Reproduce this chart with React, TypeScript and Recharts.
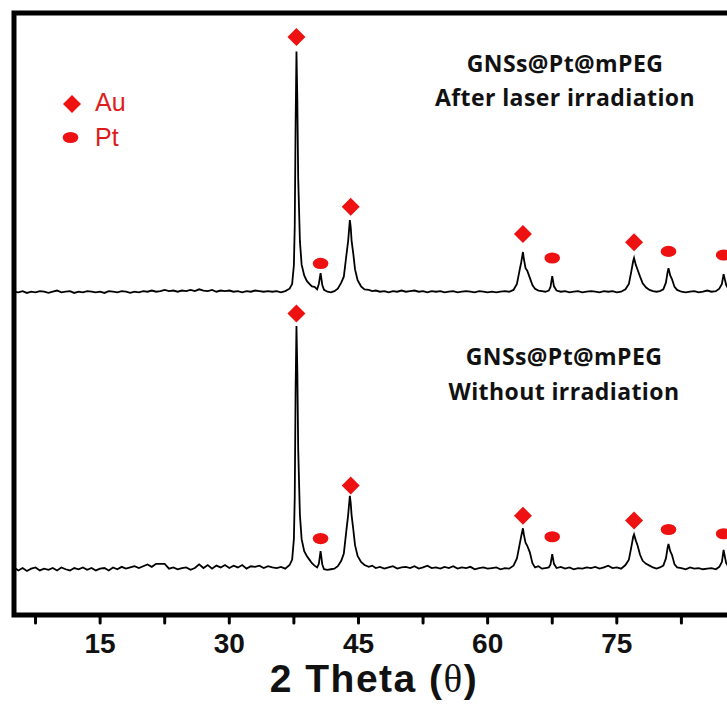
import { ComposedChart, Line, Scatter, XAxis, YAxis, ReferenceArea, Label } from "recharts";

// 2 theta grid (degrees)
const angles = [
  5, 5.5, 6, 6.5, 7, 7.5, 8, 8.5, 9, 9.5,
  10, 10.5, 11, 11.5, 12, 12.5, 13, 13.5, 14, 14.5,
  15, 15.5, 16, 16.5, 17, 17.5, 18, 18.5, 19, 19.5,
  20, 20.5, 21, 21.5, 22, 22.5, 23, 23.5, 24, 24.5,
  25, 25.5, 26, 26.5, 27, 27.5, 28, 28.5, 29, 29.5,
  30, 30.5, 31, 31.5, 32, 32.5, 33, 33.5, 34, 34.5,
  35, 35.5, 36, 36.5, 37, 37.3, 37.5, 37.6, 37.7, 37.8,
  37.9, 38, 38.2, 38.4, 38.7, 39, 39.3, 39.6, 39.9, 40.2,
  40.4, 40.6, 40.8, 41, 41.4, 41.8, 42.2, 42.6, 43, 43.3,
  43.6, 43.8, 44, 44.1, 44.2, 44.4, 44.6, 44.9, 45.3, 45.7,
  46.2, 46.6, 47, 47.5, 48, 48.5, 49, 49.5, 50, 50.5,
  51, 51.5, 52, 52.5, 53, 53.5, 54, 54.5, 55, 55.5,
  56, 56.5, 57, 57.5, 58, 58.5, 59, 59.5, 60, 60.5,
  61, 61.5, 62, 62.5, 63, 63.4, 63.7, 63.9, 64.1, 64.2,
  64.4, 64.6, 64.9, 65.2, 65.5, 65.9, 66.3, 66.7, 67.1, 67.3,
  67.5, 67.7, 68, 68.5, 69, 69.5, 70, 70.5, 71, 71.5,
  72, 72.5, 73, 73.5, 74, 74.5, 75, 75.5, 76, 76.4,
  76.7, 76.9, 77, 77.2, 77.4, 77.7, 78, 78.4, 78.8, 79.2,
  79.6, 80, 80.4, 80.7, 80.9, 81, 81.2, 81.4, 81.7, 82,
  82.5, 83, 83.5, 84, 84.5, 85, 85.5, 86, 86.5, 86.9,
  87.2, 87.4, 87.5, 87.7, 88, 88.5, 89, 89.5, 90,
];

// GNSs@Pt@mPEG after laser irradiation (a.u., above its own baseline)
const afterLaser = [
  0.1, 0.0, 0.2, -0.1, 0.1, 0.0, 0.2, 0.1, -0.1, 0.1,
  0.3, 0.0, 0.1, 0.2, -0.1, 0.1, 0.0, 0.2, 0.1, 0.0,
  0.1, -0.1, 0.2, 0.1, 0.0, 0.2, 0.1, -0.1, 0.1, 0.0,
  0.2, 0.1, 0.3, 0.1, 0.2, 0.4, 0.2, 0.3, 0.1, 0.3,
  0.2, 0.4, 0.2, 0.5, 0.3, 0.2, 0.4, 0.1, 0.3, 0.2,
  0.3, 0.1, 0.2, 0.0, 0.2, 0.1, 0.3, 0.2, 0.1, 0.2,
  0.1, 0.2, 0.0, 0.2, 0.6, 1.4, 4.5, 11, 28, 40,
  32, 19, 8.5, 4.6, 2.8, 1.9, 1.4, 1.0, 0.9, 0.5,
  1.4, 3.2, 1.2, 0.4, 0.1, 0.0, 0.2, 0.6, 1.6, 2.6,
  6.2, 8.5, 12, 10.8, 8.6, 6.4, 3.8, 2.0, 1.0, 0.5,
  0.4, 0.2, 0.3, 0.1, 0.2, 0.0, 0.2, 0.1, 0.3, 0.1,
  0.2, 0.3, 0.1, 0.2, 0.0, 0.2, 0.1, 0.2, 0.0, 0.1,
  0.2, 0.0, 0.1, 0.2, 0.1, 0.0, 0.2, 0.1, 0.0, 0.1,
  0.0, 0.1, 0.2, 0.1, 0.4, 1.4, 3.6, 5.0, 6.7, 5.6,
  4.0, 3.6, 2.4, 1.2, 0.6, 0.3, 0.2, 0.1, 0.3, 0.9,
  2.7, 1.0, 0.3, 0.1, 0.2, 0.0, 0.1, 0.2, 0.0, 0.1,
  0.2, 0.1, 0.0, 0.2, 0.1, 0.2, 0.0, 0.1, 0.5, 1.4,
  3.6, 5.2, 5.7, 4.6, 3.8, 2.6, 1.5, 0.8, 0.4, 0.2,
  0.1, 0.2, 0.5, 1.6, 3.4, 4.0, 2.8, 2.2, 0.9, 0.4,
  0.1, 0.0, 0.1, 0.2, 0.0, 0.1, 0.3, 0.1, 0.2, 0.6,
  1.4, 3.0, 2.4, 1.2, 0.5, 0.2, 0.1, 0.2, 0.1,
];

// GNSs@Pt@mPEG without irradiation
const withoutIrr = [
  0.3, -0.2, 0.2, -0.3, 0.1, 0.3, -0.2, 0.1, -0.1, 0.2,
  -0.2, 0.3, 0.0, -0.2, 0.2, 0.0, 0.3, -0.1, 0.2, -0.2,
  0.1, 0.2, -0.2, 0.3, 0.0, 0.4, 0.1, 0.3, 0.5, 0.2,
  0.5, 0.8, 0.4, 0.9, 0.9, 0.9, 0.1, 0.3, 0.0, 0.2,
  0.3, -0.1, 0.2, 0.8, 0.2, 0.7, 0.1, 0.6, 0.3, 0.7,
  0.2, 0.6, 0.3, 0.7, 0.1, 0.5, 0.4, 0.6, 0.2, 0.5,
  0.3, 0.2, 0.4, 0.1, 0.7, 1.6, 5.0, 12, 30, 40.4,
  33, 20, 9, 5, 3.0, 2.2, 1.6, 1.0, 0.6, 0.3,
  0.9, 3.0, 0.8, 0.0, -0.1, 0.0, 0.1, 0.5, 1.4, 2.6,
  6.5, 9.0, 12.2, 11, 9.0, 6.6, 4.0, 2.2, 1.2, 0.7,
  0.4, 0.6, 0.2, 0.4, 0.1, 0.3, 0.5, 0.1, 0.3, 0.4,
  0.2, 0.5, 0.1, 0.3, 0.6, 0.2, 0.3, 0.1, 0.4, 0.2,
  0.5, 0.1, 0.3, 0.2, 0.4, 0.0, 0.2, 0.3, 0.1, 0.2,
  0.3, 0.0, 0.2, 0.1, 0.6, 1.8, 4.0, 5.5, 6.8, 5.8,
  4.4, 3.9, 2.8, 1.0, 0.3, 0.5, 0.1, 0.2, 0.3, 0.8,
  2.5, 0.9, 0.2, 0.4, 0.1, 0.3, 0.0, 0.2, 0.1, 0.3,
  0.2, 0.4, 0.1, 0.3, 0.6, 0.2, 0.3, 0.1, 0.7, 1.6,
  3.8, 5.4, 5.8, 4.8, 4.0, 2.4, 1.4, 0.9, 0.6, 0.3,
  0.1, 0.3, 0.6, 1.8, 3.6, 4.2, 3.0, 2.4, 0.8, 0.3,
  0.2, 0.0, 0.3, 0.1, 0.2, 0.0, 0.1, 0.2, 0.0, 0.4,
  1.2, 3.2, 2.4, 1.0, 0.4, 0.2, 0.1, 0.3, 0.1,
];

// vertical stacking of the two patterns
const topOffset = 53.6;
const bottomOffset = 7.6;

// peak markers: angle and height above the trace baseline
const auAngles = [37.8, 44.1, 64.1, 77.0];
const auTopHeights = [42.4, 14.2, 9.7, 8.3];
const auBottomHeights = [42.5, 13.9, 8.9, 8.1];
const ptAngles = [40.6, 67.5, 81.0, 87.4];
const ptTopHeights = [4.8, 5.7, 6.8, 6.2];
const ptBottomHeights = [5.1, 5.4, 6.6, 5.9];

const xTicks = [7.5, 15, 22.5, 30, 37.5, 45, 52.5, 60, 67.5, 75, 82.5];
const labelledTicks = [15, 30, 45, 60, 75];

const RED = "#ee1111";

const table = angles.map((a, i) => ({
  angle: a,
  top: afterLaser[i] + topOffset,
  bottom: withoutIrr[i] + bottomOffset,
}));

const auPoints = [
  ...auAngles.map((a, i) => ({ angle: a, v: auTopHeights[i] + topOffset })),
  ...auAngles.map((a, i) => ({ angle: a, v: auBottomHeights[i] + bottomOffset })),
];
const ptPoints = [
  ...ptAngles.map((a, i) => ({ angle: a, v: ptTopHeights[i] + topOffset })),
  ...ptAngles.map((a, i) => ({ angle: a, v: ptBottomHeights[i] + bottomOffset })),
];

const Diamond = (props: any) => {
  const { cx, cy } = props;
  return <polygon points={`${cx},${cy - 9} ${cx + 9},${cy} ${cx},${cy + 9} ${cx - 9},${cy}`} fill={RED} />;
};

const Dot = (props: any) => {
  const { cx, cy } = props;
  return <ellipse cx={cx} cy={cy} rx={7.8} ry={5.6} fill={RED} />;
};

const AxisTick = (props: any) => {
  const { x, y, payload } = props;
  if (!labelledTicks.includes(payload.value)) return <g />;
  return (
    <text x={x} y={y + 28} textAnchor="middle" fontFamily="Liberation Sans, Arial" fontWeight="bold" fontSize={28} fill="#111">
      {payload.value}
    </text>
  );
};

const noteStyle = {
  fontFamily: "'Open Sans', Lato, sans-serif",
  fontWeight: 700,
  fontSize: 23,
  letterSpacing: 0.4,
  fill: "#111",
};

export default function App() {
  return (
    <div style={{ position: "absolute", left: 0, top: 0, width: 727, height: 704, overflow: "hidden", background: "#fff" }}>
      <ComposedChart width={756} height={704} data={table} margin={{ top: 13, left: 14, right: 10, bottom: 0 }}>
        <XAxis
          dataKey="angle"
          type="number"
          domain={[5, 90]}
          ticks={xTicks}
          allowDataOverflow
          height={89}
          axisLine={false}
          tickSize={8}
          tickLine={{ stroke: "#000", strokeWidth: 3, strokeLinecap: "round" }}
          tick={<AxisTick />}
          interval={0}
        >
          <Label
            content={(p: any) => {
              const vb = p.viewBox;
              return (
                <text x={374} y={vb.y + 77} textAnchor="middle" fontFamily="Liberation Sans, Arial" fontWeight="bold" fontSize={39} letterSpacing={1.5} fill="#111">
                  2 Theta (<tspan fontFamily="Liberation Serif, Times New Roman" fontWeight="normal">θ</tspan>)
                </text>
              );
            }}
          />
        </XAxis>
        <YAxis type="number" domain={[0, 100]} hide />
        <ReferenceArea x1={5} x2={90} y1={0} y2={100} fill="none" stroke="#000" strokeWidth={5} ifOverflow="visible" />
        <Line dataKey="top" type="linear" stroke="#000" strokeWidth={1.8} dot={false} isAnimationActive={false} />
        <Line dataKey="bottom" type="linear" stroke="#000" strokeWidth={1.8} dot={false} isAnimationActive={false} />
        <Scatter data={auPoints} dataKey="v" shape={<Diamond />} isAnimationActive={false} />
        <Scatter data={ptPoints} dataKey="v" shape={<Dot />} isAnimationActive={false} />
      </ComposedChart>
      <svg width={727} height={704} style={{ position: "absolute", left: 0, top: 0, pointerEvents: "none" }}>
        <polygon points="72,95 81,104 72,113 63,104" fill={RED} />
        <ellipse cx={70.5} cy={137.5} rx={7.8} ry={5.6} fill={RED} />
        <text x={95} y={111} fontFamily="Liberation Sans, Arial" fontSize={25} fill="#dd1c1c">Au</text>
        <text x={95} y={146} fontFamily="Liberation Sans, Arial" fontSize={25} fill="#dd1c1c">Pt</text>
        <text x={565} y={72} textAnchor="middle" style={noteStyle}>GNSs@Pt@mPEG</text>
        <text x={565} y={106} textAnchor="middle" style={noteStyle}>After laser irradiation</text>
        <text x={564} y={365} textAnchor="middle" style={noteStyle}>GNSs@Pt@mPEG</text>
        <text x={564} y={400} textAnchor="middle" style={noteStyle}>Without irradiation</text>
      </svg>
    </div>
  );
}
